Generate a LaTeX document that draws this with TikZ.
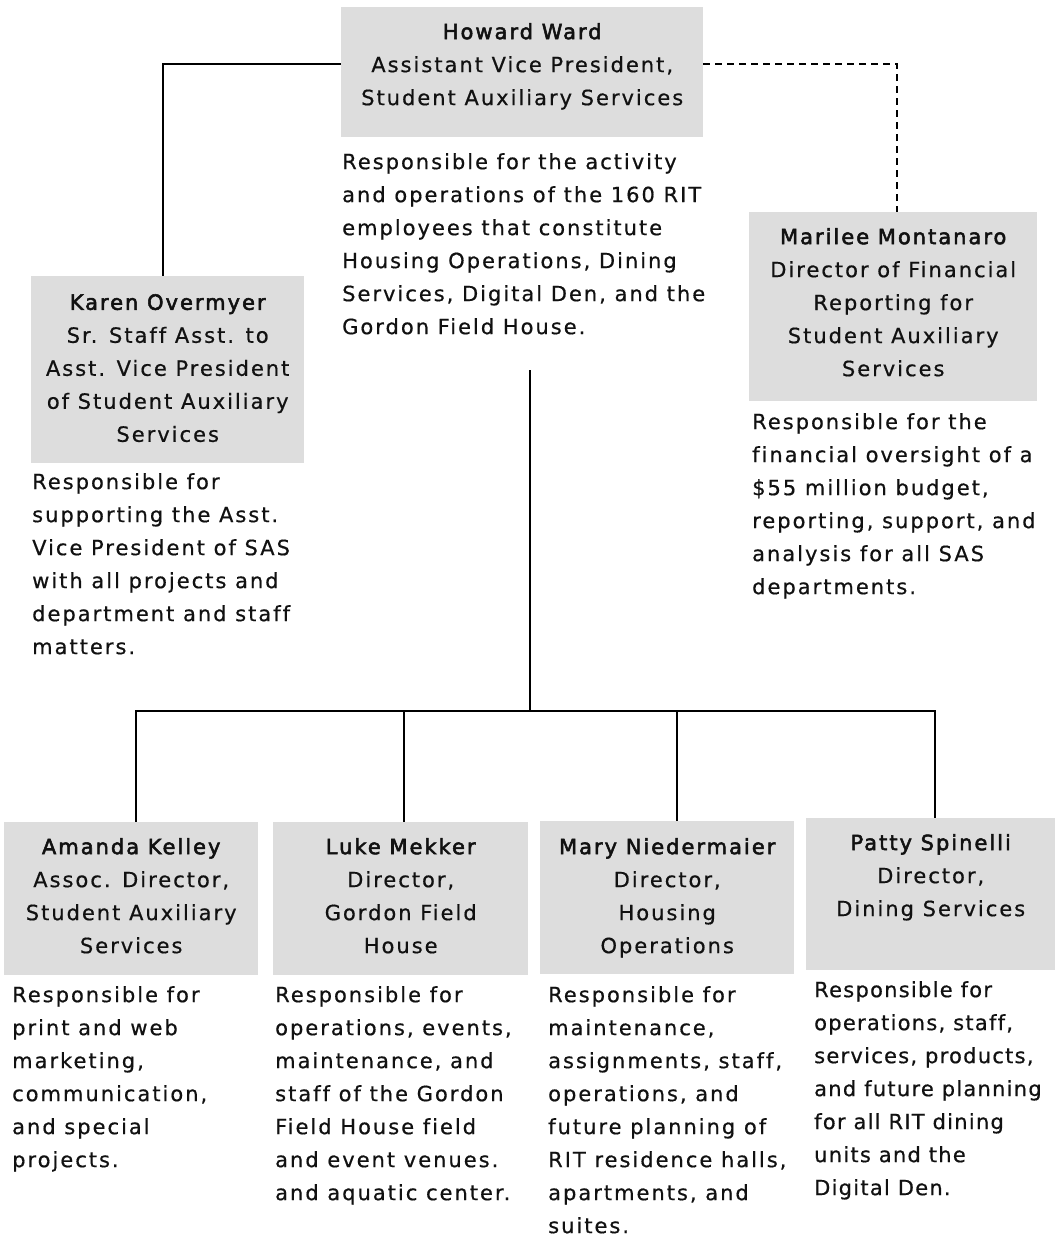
\documentclass[tikz,border=0pt]{standalone}
\usepackage{fontspec}
\setmainfont{DejaVu Sans}[LetterSpace=9.5, FakeBold=0.6, Ligatures=NoCommon]
\newfontfamily\namefont{DejaVu Sans}[LetterSpace=9.5, FakeBold=2.5, Ligatures=NoCommon]
\newcommand\orgfont{\fontsize{21}{33}\selectfont}
\definecolor{boxgray}{HTML}{DDDDDD}
\definecolor{inkblack}{HTML}{111111}

\begin{document}
\begin{tikzpicture}[
    x=1pt, y=-1pt,
    box/.style={fill=boxgray, inner sep=0pt, anchor=north west},
    title/.style={anchor=north, align=center, inner sep=0pt, font=\orgfont, text=inkblack},
    desc/.style={anchor=north west, align=left, inner sep=0pt, font=\orgfont, text=inkblack},
    link/.style={line width=2pt, black},
    dashlink/.style={link, line width=1.7pt, dash pattern=on 7pt off 5pt}
  ]

    \useasboundingbox (0,0) rectangle (1055,1238);

    % Top: the assistant vice president
    \node[box, minimum width=362pt, minimum height=130pt] (ward) at (341,7) {};
    \node[title] (wardtxt) at ([yshift=-16pt]ward.north) {{\namefont Howard Ward}\\
      Assistant Vice President,\\ Student Auxiliary Services};
    \node[desc] (warddesc) at (342,153) {Responsible for the activity\\
      and operations of the 160 RIT\\ employees that constitute\\
      Housing Operations, Dining\\ Services, Digital Den, and the\\
      Gordon Field House.};

    % Staff assistant (left)
    \node[box, minimum width=273pt, minimum height=187pt] (karen) at (31,276) {};
    \node[title] (karentxt) at ([yshift=-18pt]karen.north) {{\namefont Karen Overmyer}\\
      Sr. Staff Asst. to\\ Asst. Vice President\\ of Student Auxiliary\\ Services};
    \node[desc] (karendesc) at (32,473) {Responsible for\\ supporting the Asst.\\
      Vice President of SAS\\ with all projects and\\ department and staff\\ matters.};

    % Financial reporting (right)
    \node[box, minimum width=288pt, minimum height=189pt] (marilee) at (749,212) {};
    \node[title] (marileetxt) at ([yshift=-16pt]marilee.north) {{\namefont Marilee Montanaro}\\
      Director of Financial\\ Reporting for\\ Student Auxiliary\\ Services};
    \node[desc] (marileedesc) at (752,413) {Responsible for the\\ financial oversight of a\\
      \$55 million budget,\\ reporting, support, and\\ analysis for all SAS\\ departments.};

    % Directors row
    \node[box, minimum width=254pt, minimum height=153pt] (amanda) at (4,822) {};
    \node[box, minimum width=255pt, minimum height=153pt] (luke) at (273,822) {};
    \node[box, minimum width=254pt, minimum height=153pt] (mary) at (540,821) {};
    \node[box, minimum width=249pt, minimum height=152pt] (patty) at (806,818) {};

    \node[title] (amandatxt) at ([yshift=-16pt]amanda.north) {{\namefont Amanda Kelley}\\
      Assoc. Director,\\ Student Auxiliary\\ Services};
    \node[title] (luketxt) at ([yshift=-16pt]luke.north) {{\namefont Luke Mekker}\\
      Director,\\ Gordon Field\\ House};
    \node[title] (marytxt) at ([yshift=-17pt]mary.north) {{\namefont Mary Niedermaier}\\
      Director,\\ Housing\\ Operations};
    \node[title] (pattytxt) at ([yshift=-16pt]patty.north) {{\namefont Patty Spinelli}\\
      Director,\\ Dining Services};

    \node[desc] (amandadesc) at (12,986) {Responsible for\\ print and web\\ marketing,\\
      communication,\\ and special\\ projects.};
    \node[desc] (lukedesc) at (275,986) {Responsible for\\ operations, events,\\
      maintenance, and\\ staff of the Gordon\\ Field House field\\ and event venues.\\
      and aquatic center.};
    \node[desc] (marydesc) at (548,986) {Responsible for\\ maintenance,\\
      assignments, staff,\\ operations, and\\ future planning of\\
      RIT residence halls,\\ apartments, and\\ suites.};
    \node[desc, font=\orgfont\addfontfeature{LetterSpace=6}] (pattydesc) at (814,981) {Responsible for\\ operations, staff,\\
      services, products,\\ and future planning\\ for all RIT dining\\
      units and the\\ Digital Den.};

    % Connectors
    \draw[link] ([xshift=-5pt]karen.north) |- ([yshift=8pt]ward.west);
    \draw[dashlink] ([yshift=8pt]ward.east) -| ([xshift=4pt]marilee.north);

    \coordinate (trunk) at (530,370);
    \coordinate (hub) at (530,711);
    \draw[link] (trunk) -- (hub);
    \foreach \who/\dx in {amanda/5, luke/3, mary/10, patty/4}
      \draw[link] (hub) -| ([xshift=\dx pt]\who.north);

  \end{tikzpicture}
\end{document}
